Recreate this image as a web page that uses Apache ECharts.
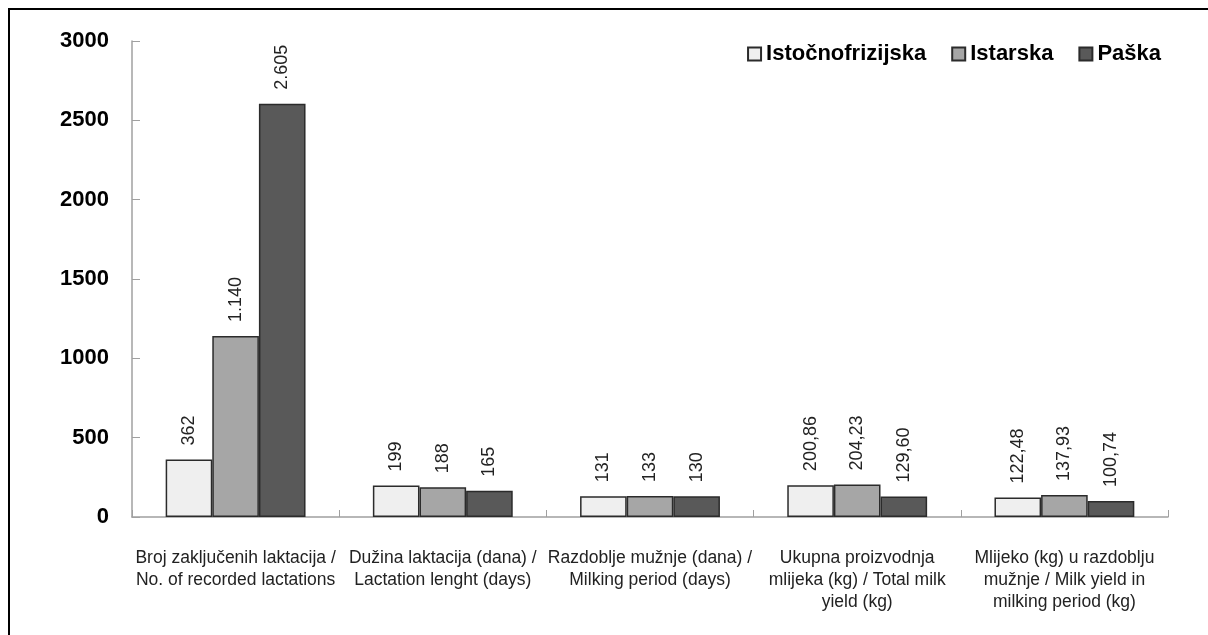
<!DOCTYPE html>
<html>
<head>
<meta charset="utf-8">
<script src="https://cdn.jsdelivr.net/npm/echarts@6/dist/echarts.min.js"></script>
<style>
	html, body { margin: 0; padding: 0; background: #fff; overflow: hidden; }
	#chart { width: 1208px; height: 635px; }
	#frame { position: absolute; left: 8px; top: 8px; width: 1220px; height: 660px; border: 2.5px solid #000; pointer-events: none; }
</style>
</head>
<body>
<div id="chart"></div>
<div id="frame"></div>
<script>
// kategorije (osi x)
var categories = [
	'Broj zaključenih laktacija /\nNo. of recorded lactations',
	'Dužina laktacija (dana) /\nLactation lenght (days)',
	'Razdoblje mužnje (dana) /\nMilking period (days)',
	'Ukupna proizvodnja\nmlijeka (kg) / Total milk\nyield (kg)',
	'Mlijeko (kg) u razdoblju\nmužnje / Milk yield in\nmilking period (kg)'
]
var seriesNames = ['Istočnofrizijska', 'Istarska', 'Paška']
var istocnofrizijska = [362, 199, 131, 200.86, 122.48]
var istarska = [1140, 188, 133, 204.23, 137.93]
var paska = [2605, 165, 130, 129.60, 100.74]
// broj decimala po kategoriji za oznake
var decimals = [0, 0, 0, 2, 2]
var yTicks = [0, 500, 1000, 1500, 2000, 2500, 3000]

var colors = ['#efefef', '#a6a6a6', '#595959']

function formatLabel (value, idx) {
	var d = decimals[idx]
	var parts = value.toFixed(d).split('.')
	var intPart = parts[0].replace(/\B(?=(\d{3})+(?!\d))/g, '.')
	return d > 0 ? intPart + ',' + parts[1] : intPart
}

function makeSeries (name, data, i) {
	return {
		name: name,
		type: 'bar',
		data: data,
		barGap: '0%',
		barCategoryGap: '32.5%',
		itemStyle: {
			color: colors[i],
			borderColor: '#2b2b2b',
			borderWidth: 1.5
		},
		label: {
			show: true,
			position: 'top',
			distance: 14,
			rotate: 90,
			align: 'left',
			verticalAlign: 'middle',
			fontFamily: 'Liberation Sans, Arial, sans-serif',
			fontSize: 18,
			color: '#222',
			formatter: function (p) {
				return formatLabel(p.value, p.dataIndex)
			}
		}
	}
}

var chart = echarts.init(document.getElementById('chart'))
chart.setOption({
	animation: false,
	backgroundColor: '#fff',
	grid: {
		left: 132,
		right: 40,
		top: 41,
		bottom: 118
	},
	legend: {
		data: seriesNames,
		right: 42,
		top: 38,
		itemWidth: 13,
		itemHeight: 13,
		itemGap: 25,
		icon: 'rect',
		textStyle: {
			fontFamily: 'Liberation Sans, Arial, sans-serif',
			fontSize: 22,
			fontWeight: 'bold',
			color: '#000'
		}
	},
	xAxis: {
		type: 'category',
		data: categories,
		axisLine: { lineStyle: { color: '#a0a0a0', width: 1.5 } },
		axisTick: { show: true, inside: true, length: 7, lineStyle: { color: '#a0a0a0' } },
		axisLabel: {
			interval: 0,
			margin: 30,
			fontFamily: 'Liberation Sans, Arial, sans-serif',
			fontSize: 17.5,
			lineHeight: 22,
			color: '#222'
		}
	},
	yAxis: {
		type: 'value',
		min: yTicks[0],
		max: yTicks[yTicks.length - 1],
		interval: 500,
		splitLine: { show: false },
		axisLine: { show: true, lineStyle: { color: '#a0a0a0', width: 1.5 } },
		axisTick: { show: true, inside: true, length: 8, lineStyle: { color: '#a0a0a0' } },
		axisLabel: {
			margin: 23,
			fontFamily: 'Liberation Sans, Arial, sans-serif',
			fontSize: 22,
			fontWeight: 'bold',
			color: '#000',
			formatter: function (v) { return String(v) }
		}
	},
	series: [
		makeSeries(seriesNames[0], istocnofrizijska, 0),
		makeSeries(seriesNames[1], istarska, 1),
		makeSeries(seriesNames[2], paska, 2)
	]
})
</script>
</body>
</html>
